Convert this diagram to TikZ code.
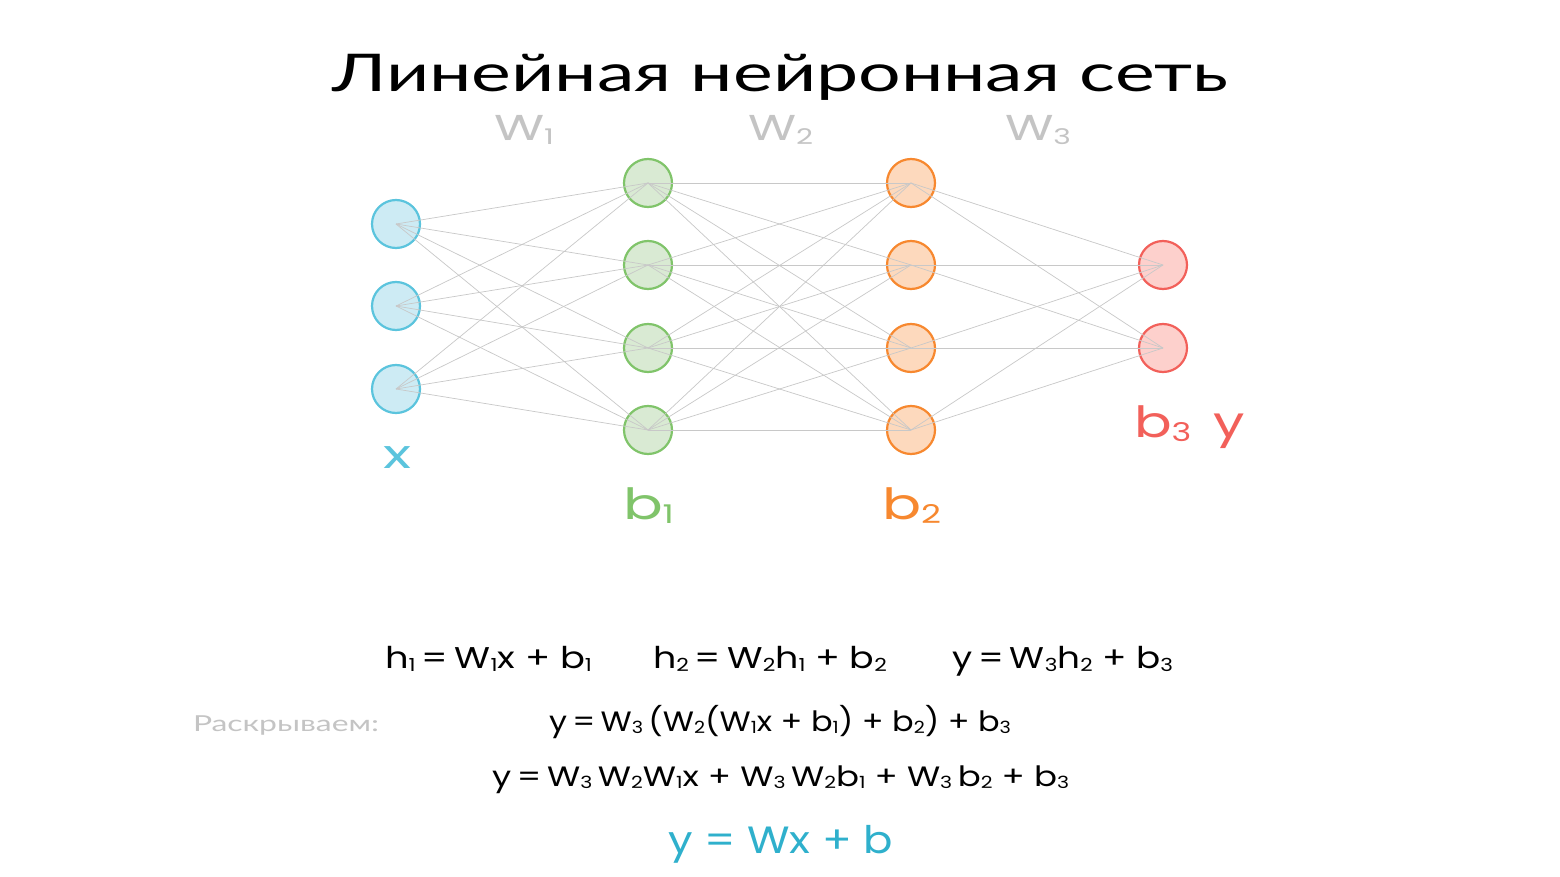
\documentclass[tikz,border=0pt]{standalone}
\usepackage{fontspec}
\setmainfont{Poppins}
\newfontfamily\lat{Lato}
\definecolor{cyanS}{HTML}{5BC4DD}
\definecolor{cyanF}{HTML}{CDEBF4}
\definecolor{grnS}{HTML}{80C46A}
\definecolor{grnF}{HTML}{D9EAD3}
\definecolor{orgS}{HTML}{F7882F}
\definecolor{orgF}{HTML}{FDD9BD}
\definecolor{redS}{HTML}{F2605A}
\definecolor{redF}{HTML}{FDD0CC}
\definecolor{lbl}{HTML}{C4C4C4}
\definecolor{edge}{HTML}{C8C8C8}
\definecolor{fin}{HTML}{2FB0CC}
\newcommand\sbs[1]{\raisebox{-0.1em}{\scalebox{0.6}{#1}}}
\newcommand\fitw[2]{\resizebox{#1}{\height}{#2}}
\newcommand\fs[1]{\fontsize{#1}{#1}\selectfont}
\tikzset{
  neuron/.style={circle, minimum size=48pt, inner sep=0pt, line width=2.2pt},
  inp/.style={neuron, draw=cyanS, fill=cyanF},
  hida/.style={neuron, draw=grnS, fill=grnF},
  hidb/.style={neuron, draw=orgS, fill=orgF},
  outp/.style={neuron, draw=redS, fill=redF},
  conn/.style={draw=edge, line width=0.7pt},
  txt/.style={anchor=base west, inner sep=0pt, outer sep=0pt},
}
\begin{document}
\begin{tikzpicture}[x=1pt,y=-1pt]
\useasboundingbox (0,0) rectangle (1560,877);
\fill[white] (0,0) rectangle (1560,877);
% neurons
\foreach \i/\yy in {1/224,2/306,3/389} \node[inp] (i\i) at (396,\yy) {};
\foreach \i/\yy in {1/183,2/265,3/348,4/430} \node[hida] (a\i) at (648,\yy) {};
\foreach \i/\yy in {1/183,2/265,3/348,4/430} \node[hidb] (b\i) at (911,\yy) {};
\foreach \i/\yy in {1/265,2/348} \node[outp] (o\i) at (1163,\yy) {};
% connections
\foreach \s in {1,2,3} \foreach \t in {1,2,3,4} \draw[conn] (i\s.center) -- (a\t.center);
\foreach \s in {1,2,3,4} \foreach \t in {1,2,3,4} \draw[conn] (a\s.center) -- (b\t.center);
\foreach \s in {1,2,3,4} \foreach \t in {1,2} \draw[conn] (b\s.center) -- (o\t.center);
% title
\node[txt] (title) at (332,92) {\fitw{896pt}{\lat\fs{52}Линейная нейронная сеть}};
% weight labels
\node[txt, text=lbl] (w1) at (494,141) {\fitw{60pt}{\fs{36}W\sbs{1}}};
\node[txt, text=lbl] (w2) at (748,141) {\fitw{65pt}{\fs{36}W\sbs{2}}};
\node[txt, text=lbl] (w3) at (1005,141) {\fitw{66pt}{\fs{36}W\sbs{3}}};
% layer labels
\node[txt, text=cyanS] (lx) at (383,468) {\fitw{28pt}{\fs{40}x}};
\node[txt, text=grnS] (lb1) at (623,519) {\fitw{51pt}{\fs{43}b\sbs{1}}};
\node[txt, text=orgS] (lb2) at (882,519) {\fitw{59pt}{\fs{43}b\sbs{2}}};
\node[txt, text=redS] (lb3) at (1134,437) {\fitw{111pt}{\fs{43}b\sbs{3}\hspace{0.4em}y}};
% equations
\node[txt] (e1) at (385,668) {\fitw{207pt}{\fs{30}h\sbs{1}\,=\,W\sbs{1}x + b\sbs{1}}};
\node[txt] (e2) at (653,668) {\fitw{234pt}{\fs{30}h\sbs{2}\,=\,W\sbs{2}h\sbs{1} + b\sbs{2}}};
\node[txt] (e3) at (952,668) {\fitw{221pt}{\fs{30}y\,=\,W\sbs{3}h\sbs{2} + b\sbs{3}}};
\node[txt, text=lbl] (rs) at (193,731) {\fitw{186pt}{\lat\fs{22}Раскрываем:}};
\node[txt] (e4) at (549,731) {\fitw{462pt}{\fs{28}y\,=\,W\sbs{3}\,(W\sbs{2}(W\sbs{1}x + b\sbs{1}) + b\sbs{2}) + b\sbs{3}}};
\node[txt] (e5) at (492,786) {\fitw{577pt}{\fs{28}y\,=\,W\sbs{3}\,W\sbs{2}W\sbs{1}x + W\sbs{3}\,W\sbs{2}b\sbs{1} + W\sbs{3}\,b\sbs{2} + b\sbs{3}}};
\node[txt, text=fin] (e6) at (668,853) {\fitw{225pt}{\fs{38}y = Wx + b}};
\end{tikzpicture}
\end{document}
